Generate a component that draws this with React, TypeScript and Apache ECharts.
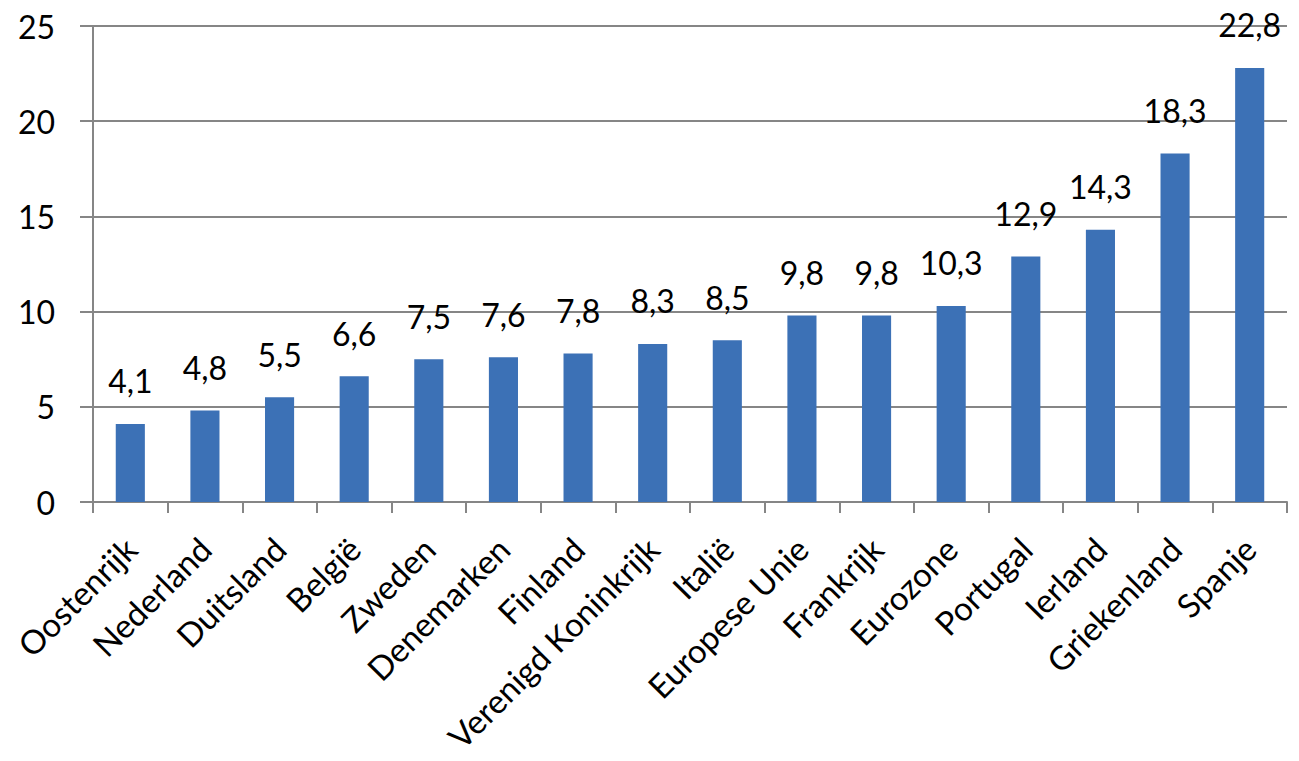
import React, { useEffect, useRef } from "react";
import * as echarts from "echarts";

const categories = [
  "Oostenrijk", "Nederland", "Duitsland", "België", "Zweden", "Denemarken",
  "Finland", "Verenigd Koninkrijk", "Italië", "Europese Unie", "Frankrijk",
  "Eurozone", "Portugal", "Ierland", "Griekenland", "Spanje",
];
const values = [4.1, 4.8, 5.5, 6.6, 7.5, 7.6, 7.8, 8.3, 8.5, 9.8, 9.8, 10.3, 12.9, 14.3, 18.3, 22.8];
const yTicks = [0, 5, 10, 15, 20, 25];

const FONT = "Lato, 'Open Sans', sans-serif";
const AXIS_GRAY = "#868686";

export default function App() {
  const ref = useRef<HTMLDivElement>(null);
  useEffect(() => {
    document.body.style.margin = "0";
    if (!ref.current) return;
    const chart = echarts.init(ref.current, null, { renderer: "svg" });
    chart.setOption({
      animation: false,
      backgroundColor: "#ffffff",
      grid: { left: 93, right: 12, top: 26, bottom: 259, containLabel: false, outerBoundsMode: "none" },
      xAxis: {
        type: "category",
        data: categories,
        boundaryGap: true,
        axisLine: { show: true, lineStyle: { color: AXIS_GRAY, width: 2 } },
        axisTick: { show: true, length: 11, inside: false, lineStyle: { color: AXIS_GRAY, width: 2 } },
        axisLabel: {
          rotate: 45,
          interval: 0,
          margin: 41,
          fontFamily: FONT,
          fontSize: 33,
          color: "#000",
        },
      },
      yAxis: {
        type: "value",
        min: yTicks[0],
        max: yTicks[yTicks.length - 1],
        interval: 5,
        axisLine: { show: true, lineStyle: { color: AXIS_GRAY, width: 2 } },
        axisTick: { show: true, length: 13, lineStyle: { color: AXIS_GRAY, width: 2 } },
        splitLine: { show: true, lineStyle: { color: AXIS_GRAY, width: 2 } },
        axisLabel: {
          margin: 38,
          fontFamily: FONT,
          fontSize: 32,
          color: "#000",
        },
      },
      series: [
        {
          type: "bar",
          data: values,
          barWidth: "39%",
          itemStyle: { color: "#3C71B6" },
          label: {
            show: true,
            position: "top",
            distance: 27,
            fontFamily: FONT,
            fontSize: 32,
            color: "#000",
            formatter: (p: any) => Number(p.value).toFixed(1).replace(".", ","),
          },
        },
      ],
    });
    return () => chart.dispose();
  }, []);
  return <div ref={ref} style={{ width: 1299, height: 761 }} />;
}
